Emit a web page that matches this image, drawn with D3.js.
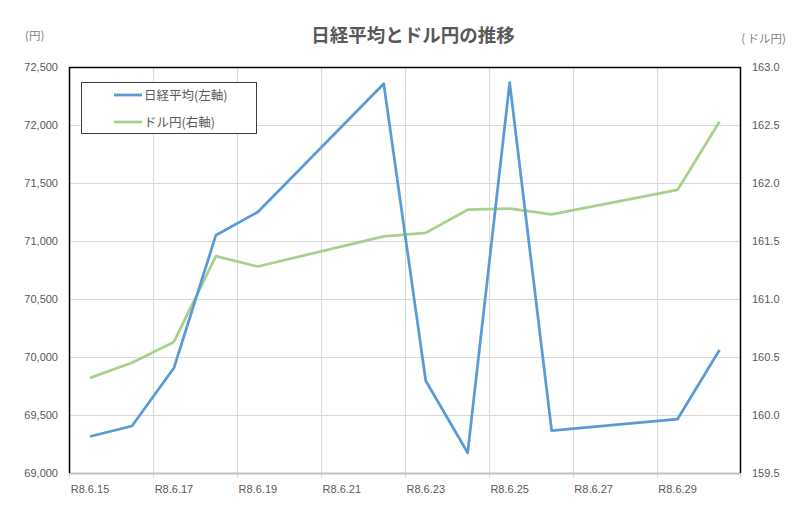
<!DOCTYPE html>
<html><head><meta charset="utf-8">
<script src="https://cdn.jsdelivr.net/npm/d3@7/dist/d3.min.js"></script>
<style>
body{margin:0;background:#fff;}
svg{display:block;}
</style></head>
<body><svg id="c" width="800" height="515"></svg>
<script>
const days = [15,16,17,18,19,22,23,24,25,26,29,30];
const nikkei = [69315,69405,69905,71050,71250,72355,69795,69175,72365,69365,69465,70060];
const usdjpy = [160.32,160.45,160.63,161.37,161.28,161.54,161.57,161.77,161.78,161.73,161.94,162.53];
const xLabelDays = [15,17,19,21,23,25,27,29];
const leftTicks = [69000,69500,70000,70500,71000,71500,72000,72500];
const rightTicks = [159.5,160.0,160.5,161.0,161.5,162.0,162.5,163.0];
const title = "日経平均とドル円の推移";
const seriesNames = ["日経平均(左軸)","ドル円(右軸)"];

const svg = d3.select("#c");
const L=69, R=740.5, T=67, B=473;
const x = d3.scaleLinear().domain([14.5,30.5]).range([L,R]);
const yL = d3.scaleLinear().domain([69000,72500]).range([B,T]);
const yR = d3.scaleLinear().domain([159.5,163.0]).range([B,T]);
const txt="#595959";
const numFont="'Liberation Sans', Arial, sans-serif";
const jpFont="'Noto Sans CJK JP', sans-serif";

// horizontal gridlines
svg.append("g").selectAll("line").data(leftTicks.slice(1,-1)).join("line")
  .attr("x1",L).attr("x2",R).attr("y1",d=>Math.round(yL(d))+0.5).attr("y2",d=>Math.round(yL(d))+0.5)
  .attr("stroke","#d9d9d9").attr("stroke-width",1);
// vertical gridlines + ticks
const vt = d3.range(16.5,30.5,2);
svg.append("g").selectAll("line").data(vt).join("line")
  .attr("x1",d=>Math.round(x(d))+0.5).attr("x2",d=>Math.round(x(d))+0.5)
  .attr("y1",T).attr("y2",B+5)
  .attr("stroke","#d9d9d9").attr("stroke-width",1);
svg.append("line").attr("x1",L+0.5).attr("x2",L+0.5).attr("y1",B).attr("y2",B+5).attr("stroke","#d9d9d9");
svg.append("line").attr("x1",R).attr("x2",R).attr("y1",B).attr("y2",B+5).attr("stroke","#d9d9d9");

// x axis line
svg.append("line").attr("x1",L).attr("x2",R).attr("y1",B+0.5).attr("y2",B+0.5).attr("stroke","#bfbfbf").attr("stroke-width",2);
// plot border top/left/right
svg.append("path").attr("d",`M${L+0.5},${B}V${T+0.5}H${R}V${B}`).attr("fill","none").attr("stroke","#000").attr("stroke-width",1.5);

// axis labels
svg.append("g").selectAll("text").data(leftTicks).join("text")
  .attr("x",58).attr("y",d=>yL(d)+4).attr("text-anchor","end")
  .attr("font-family",numFont).attr("font-size",11).attr("fill",txt)
  .text(d=>d3.format(",")(d));
svg.append("g").selectAll("text").data(rightTicks).join("text")
  .attr("x",752).attr("y",d=>yR(d)+4).attr("text-anchor","start")
  .attr("font-family",numFont).attr("font-size",11).attr("fill",txt)
  .text(d=>d.toFixed(1));
svg.append("g").selectAll("text").data(xLabelDays).join("text")
  .attr("x",d=>x(d)).attr("y",493).attr("text-anchor","middle")
  .attr("font-family",numFont).attr("font-size",11).attr("fill",txt)
  .text(d=>`R8.6.${d}`);

// title & units
svg.append("text").attr("x",413).attr("y",42).attr("text-anchor","middle")
  .attr("font-family",jpFont).attr("font-size",18.5).attr("font-weight","bold").attr("fill",txt).text(title);
svg.append("text").attr("x",25).attr("y",40).attr("font-family",jpFont).attr("font-size",11.5).attr("fill","#7f7f7f").text("(円)");
svg.append("text").attr("x",786).attr("y",43).attr("text-anchor","end").attr("font-family",jpFont).attr("font-size",11.5).attr("fill","#7f7f7f").text("( ドル円)");

// lines
const lineL = d3.line().x((d,i)=>x(days[i])).y(d=>yL(d));
const lineR = d3.line().x((d,i)=>x(days[i])).y(d=>yR(d));
svg.append("path").attr("d",lineR(usdjpy)).attr("fill","none").attr("stroke","#a9d18e").attr("stroke-width",2.75).attr("stroke-linejoin","round");
svg.append("path").attr("d",lineL(nikkei)).attr("fill","none").attr("stroke","#5b9bd5").attr("stroke-width",2.75).attr("stroke-linejoin","round");

// legend
const lg = svg.append("g");
lg.append("rect").attr("x",81.5).attr("y",82.5).attr("width",175).attr("height",51).attr("fill","#fff").attr("stroke","#404040").attr("stroke-width",1);
const colors=["#5b9bd5","#a9d18e"];
seriesNames.forEach((n,i)=>{
  const yy = 95 + i*27;
  lg.append("line").attr("x1",114).attr("x2",142).attr("y1",yy).attr("y2",yy).attr("stroke",colors[i]).attr("stroke-width",2.75);
  lg.append("text").attr("x",144).attr("y",yy+4.5).attr("font-family",jpFont).attr("font-size",12.5).attr("fill",txt).text(n);
});
</script></body></html>
